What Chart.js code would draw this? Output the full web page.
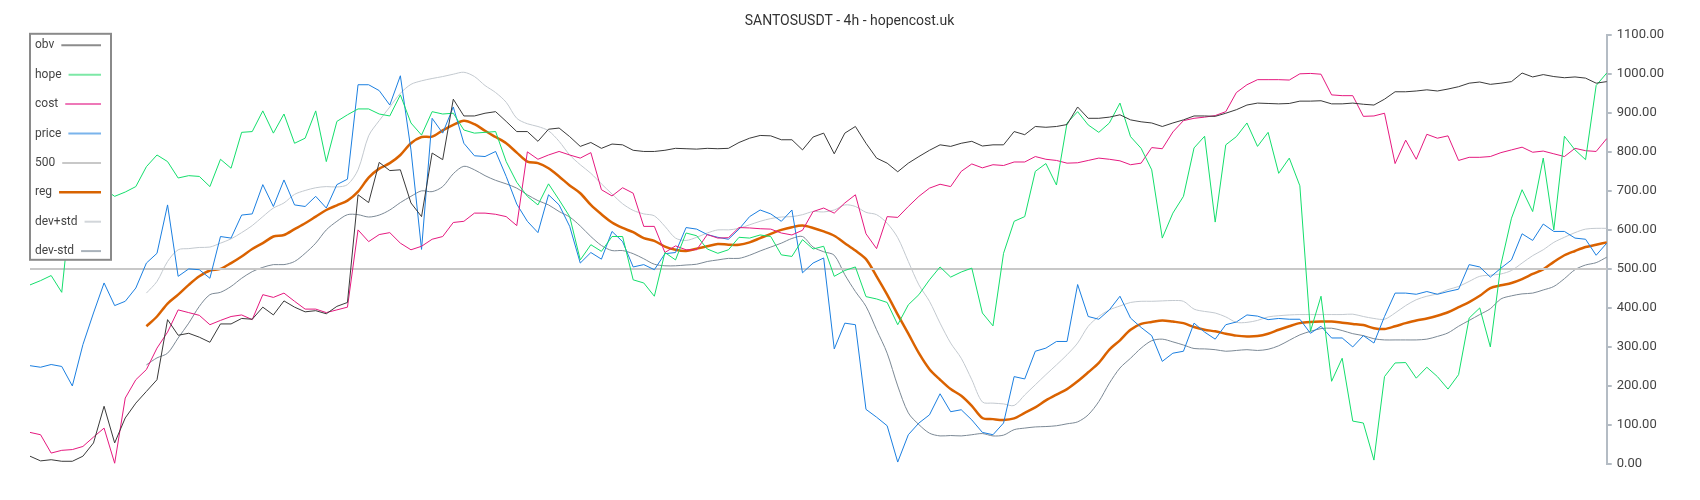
<!DOCTYPE html>
<html>
<head>
<meta charset="utf-8">
<script src="https://cdn.jsdelivr.net/npm/chart.js@4.4.1/dist/chart.umd.min.js"></script>
<style>
  html, body { margin: 0; padding: 0; background: #fff; }
  #wrap { width: 1700px; height: 500px; }
</style>
</head>
<body>
<div id="wrap"><canvas id="chart"></canvas></div>
<script>
const obv = [20, 8, 11, 7, 7, 20, 54, 148, 54, 118, 156, 186, 216, 370, 330, 335, 325,
  312, 359, 359, 373, 371, 402, 382, 418, 402, 390, 393, 385, 404, 414, 690, 670, 773,
  752, 754, 669, 634, 797, 780, 935, 892, 892, 899, 903, 878, 852, 852, 827, 858,
  861, 839, 814, 824, 809, 820, 818, 804, 801, 801, 804, 809, 808, 807, 809, 808, 809,
  824, 835, 842, 841, 831, 831, 805, 838, 848, 795, 848, 865, 822, 784, 771, 749,
  771, 788, 804, 818, 814, 822, 827, 815, 818, 818, 852, 844, 865, 863, 865, 870, 915,
  886, 886, 889, 895, 882, 877, 874, 865, 874, 882, 892, 892, 891, 899, 908, 920, 925,
  924, 923, 924, 930, 930, 931, 923, 923, 925, 922, 920, 935, 954, 954, 956, 959,
  956, 961, 967, 976, 979, 973, 976, 980, 1002, 992, 998, 993, 990, 992, 989, 976, 980];

const hope = [459, 470, 483, 440, 700, 690, 695, 705, 686, 697, 711, 762, 792, 775, 733, 739, 737,
  711, 781, 758, 850, 852, 905, 848, 897, 822, 835, 905, 775, 878, 895, 910, 910, 897,
  892, 946, 874, 843, 903, 897, 899, 856, 848, 850, 852, 775, 722, 686, 664, 718,
  677, 634, 523, 562, 545, 583, 583, 472, 464, 430, 542, 523, 592, 585, 551, 540, 549,
  581, 579, 587, 583, 536, 532, 575, 551, 558, 481, 496, 505, 429, 423, 414, 357,
  408, 434, 472, 505, 479, 492, 502, 387, 354, 540, 622, 634, 750, 770, 715, 874, 903,
  869, 850, 874, 925, 839, 809, 754, 579, 643, 686, 810, 840, 620, 818, 839, 874, 814,
  850, 745, 784, 713, 340, 430, 212, 271, 110, 105, 10, 224, 259, 260, 220, 248,
  224, 192, 229, 374, 400, 300, 511, 630, 703, 647, 784, 600, 840, 805, 780, 970, 1002];

const cost = [81, 75, 28, 35, 37, 45, 69, 92, 2, 169, 216, 242, 297, 338, 395, 388, 381,
  357, 368, 378, 382, 370, 434, 427, 438, 417, 397, 397, 388, 395, 402, 600, 570, 588,
  593, 566, 549, 558, 576, 583, 619, 622, 643, 643, 640, 634, 611, 800, 781, 792,
  801, 792, 784, 798, 703, 687, 708, 694, 609, 609, 542, 559, 549, 549, 588, 579, 580,
  606, 605, 603, 602, 592, 587, 599, 647, 656, 643, 669, 690, 590, 552, 634, 632,
  660, 686, 707, 717, 711, 750, 769, 759, 767, 765, 774, 774, 788, 781, 778, 771, 772,
  778, 784, 781, 777, 767, 771, 811, 808, 851, 880, 886, 889, 893, 903, 952, 972, 985,
  985, 985, 984, 1000, 1001, 999, 946, 944, 944, 891, 892, 899, 770, 830, 781, 845,
  835, 841, 778, 786, 786, 788, 798, 805, 812, 799, 802, 795, 788, 809, 803, 801, 834];

const price = [252, 248, 255, 250, 200, 306, 387, 464, 406, 417, 451, 515, 540, 664, 481, 500, 498,
  476, 583, 579, 638, 641, 716, 660, 728, 664, 660, 686, 656, 716, 730, 972, 972, 957,
  920, 995, 805, 550, 886, 848, 915, 822, 790, 788, 801, 737, 666, 622, 593, 690,
  664, 609, 515, 542, 525, 596, 570, 505, 511, 498, 539, 542, 606, 602, 588, 581, 576,
  602, 634, 651, 641, 622, 651, 490, 515, 528, 295, 361, 357, 140, 120, 98, 5,
  75, 105, 126, 180, 134, 139, 113, 81, 75, 105, 224, 218, 289, 297, 314, 314, 460,
  378, 371, 395, 430, 374, 350, 329, 263, 284, 289, 361, 338, 320, 357, 364, 382, 379,
  370, 373, 371, 371, 335, 353, 323, 323, 300, 329, 310, 378, 438, 438, 435, 442,
  435, 442, 448, 511, 505, 479, 502, 523, 590, 573, 615, 596, 596, 579, 576, 535, 566];

const reg = [null, null, null, null, null, null, null, null, null, null, null,
  353, 378, 411, 434, 459, 481,
  496, 500, 515, 532, 551, 566, 583, 587, 602, 617, 634, 651, 663, 675, 698, 734, 757,
  771, 792, 822, 838, 839, 855, 869, 880, 871, 854, 838, 822, 798, 775, 771, 758,
  737, 714, 694, 664, 640, 619, 605, 594, 579, 572, 557, 549, 546, 552, 558, 564, 562,
  562, 568, 579, 590, 600, 607, 611, 605, 596, 585, 566, 547, 525, 481, 434, 383,
  334, 284, 243, 216, 192, 175, 149, 118, 115, 113, 117, 131, 145, 163, 178, 192, 212,
  235, 259, 293, 317, 344, 359, 364, 368, 365, 361, 351, 344, 340, 334, 329, 327, 328,
  334, 344, 353, 361, 364, 365, 365, 362, 359, 356, 348, 346, 353, 361, 368, 373,
  380, 389, 402, 415, 431, 451, 458, 464, 474, 487, 499, 518, 535, 546, 556, 562, 568];

const devPlus = [null, null, null, null, null, null, null, null, null, null, null,
  438, 468, 519, 549, 552, 555,
  556, 566, 577, 593, 611, 634, 656, 669, 691, 701, 708, 711, 710, 716, 754, 841, 880,
  915, 950, 973, 982, 988, 993, 999, 1004, 993, 970, 952, 927, 886, 872, 865, 854,
  827, 792, 767, 745, 718, 692, 667, 650, 641, 636, 609, 579, 573, 581, 592, 600, 600,
  604, 613, 622, 629, 633, 634, 639, 647, 646, 651, 664, 660, 645, 639, 617, 580,
  519, 459, 417, 361, 310, 271, 216, 159, 156, 154, 150, 177, 203, 229, 254, 280, 310,
  353, 378, 395, 405, 414, 417, 417, 418, 419, 417, 397, 391, 387, 377, 363, 363, 368,
  377, 380, 382, 383, 383, 383, 383, 383, 384, 378, 373, 371, 387, 406, 421, 430,
  436, 447, 455, 468, 481, 484, 487, 496, 515, 534, 549, 568, 581, 593, 602, 604, 604];

const devMinus = [null, null, null, null, null, null, null, null, null, null, null,
  254, 272, 284, 323, 361, 404,
  434, 440, 455, 476, 493, 504, 511, 511, 519, 540, 566, 600, 622, 639, 639, 633, 638,
  651, 670, 686, 700, 698, 711, 744, 763, 754, 739, 727, 718, 707, 690, 675, 664,
  647, 633, 610, 583, 560, 547, 547, 539, 526, 512, 508, 508, 510, 512, 519, 523, 527,
  527, 535, 546, 556, 566, 578, 583, 556, 544, 535, 485, 442, 404, 344, 284, 200,
  131, 101, 79, 72, 73, 72, 75, 78, 72, 74, 88, 92, 95, 96, 98, 103, 108,
  126, 160, 207, 246, 271, 297, 316, 320, 313, 305, 296, 295, 293, 289, 291, 293, 291,
  294, 303, 317, 331, 340, 347, 348, 342, 334, 329, 321, 318, 318, 318, 318, 320,
  327, 336, 353, 368, 383, 398, 423, 431, 436, 438, 446, 455, 475, 498, 510, 516, 530];

// the "500" series is a flat reference level
const level500 = new Array(obv.length).fill(500);
const labels = obv.map((_, i) => String(i + 1));

const yTicks = { min: 0, max: 1100, step: 100 };

const legendColors = {
  'obv': '#8c8c8c', 'hope': '#7de8a6', 'cost': '#ee78b8', 'price': '#7ab4ec',
  '500': '#c8c8c8', 'reg': '#d86300', 'dev+std': '#d2d6da', 'dev-std': '#a9b2ba'
};

// legend drawn inside the plot, on a white box over the lines
const boxLegend = {
  id: 'boxLegend',
  afterDatasetsDraw(chart) {
    const ctx = chart.ctx;
    const left = chart.chartArea.left;
    const top = chart.chartArea.top - 1;
    const w = 81, h = 226, rowH = 29.4;
    ctx.save();
    ctx.fillStyle = '#fff';
    ctx.fillRect(left, top, w, h);
    ctx.strokeStyle = '#8a8a8a';
    ctx.lineWidth = 2;
    ctx.strokeRect(left, top, w, h);
    ctx.font = '12px Roboto, "Noto Sans", sans-serif';
    ctx.textBaseline = 'middle';
    chart.data.datasets.forEach((ds, i) => {
      const y = top + 11.5 + i * rowH;
      ctx.fillStyle = '#444';
      ctx.textAlign = 'left';
      ctx.fillText(ds.label, left + 5, y);
      const tw = ctx.measureText(ds.label).width;
      ctx.beginPath();
      ctx.strokeStyle = legendColors[ds.label] || ds.borderColor;
      ctx.lineWidth = ds.label === 'reg' ? 2.5 : 2;
      ctx.moveTo(left + 5 + tw + 7, y);
      ctx.lineTo(left + w - 10, y);
      ctx.stroke();
    });
    ctx.restore();
  }
};

function line(label, data, color, width, extra) {
  return Object.assign({
    label: label,
    data: data,
    borderColor: color,
    backgroundColor: color,
    borderWidth: width,
    pointRadius: 0,
    pointHoverRadius: 0,
    tension: 0,
    fill: false,
    spanGaps: false
  }, extra || {});
}

const ctx = document.getElementById('chart').getContext('2d');
new Chart(ctx, {
  type: 'line',
  data: {
    labels: labels,
    datasets: [
      line('obv', obv, '#3a3a3a', 1),
      line('hope', hope, '#14de6c', 1),
      line('cost', cost, '#e5197f', 1),
      line('price', price, '#1b7fe0', 1),
      line('500', level500, '#c8c8c8', 2),
      line('reg', reg, '#da6200', 2.5, { tension: 0.3 }),
      line('dev+std', devPlus, '#c3c9cf', 1, { tension: 0.3 }),
      line('dev-std', devMinus, '#7c8995', 1, { tension: 0.3 })
    ]
  },
  options: {
    responsive: true,
    maintainAspectRatio: false,
    animation: false,
    layout: {
      padding: { left: 30, right: 31, bottom: 36, top: 0 }
    },
    scales: {
      x: {
        display: false
      },
      y: {
        position: 'right',
        min: yTicks.min,
        max: yTicks.max,
        border: { display: true, color: '#b4bcc4', width: 2 },
        grid: {
          drawOnChartArea: false,
          drawTicks: true,
          tickLength: 5,
          color: '#b4bcc4',
          lineWidth: 2
        },
        ticks: {
          stepSize: yTicks.step,
          padding: 5,
          color: '#444',
          font: { family: 'Roboto', size: 13 },
          callback: (value) => Number(value).toFixed(2)
        }
      }
    },
    plugins: {
      legend: { display: false },
      tooltip: { enabled: false },
      title: {
        display: true,
        text: 'SANTOSUSDT - 4h - hopencost.uk',
        color: '#333',
        font: { family: 'Roboto', size: 14, weight: 'normal' },
        padding: { top: 13, bottom: 5 }
      }
    }
  },
  plugins: [boxLegend]
});
</script>
</body>
</html>
